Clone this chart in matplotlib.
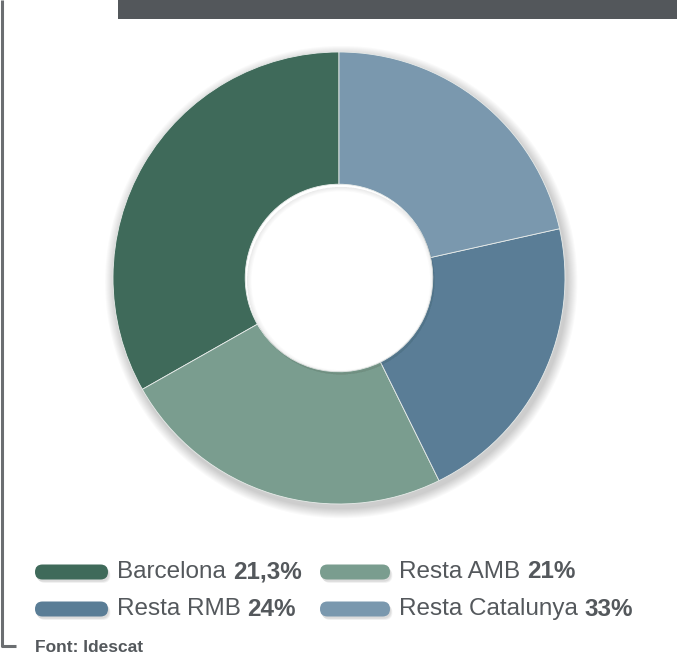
import matplotlib
matplotlib.use("Agg")
import matplotlib.pyplot as plt
from matplotlib.patches import FancyBboxPatch, Rectangle, Wedge
import numpy as np

# data
categories = ["Barcelona", "Resta AMB", "Resta RMB", "Resta Catalunya"]
legend_values = ["21,3%", "21%", "24%", "33%"]
slice_values = [33.2, 24.1, 21.2, 21.5]
colors = ["#3f6a5a", "#7a9d8f", "#5a7d96", "#7a98ae"]
source = "Font: Idescat"

W, H = 677, 657
fig = plt.figure(figsize=(W / 100, H / 100), dpi=100)
fig.patch.set_facecolor("white")

# overlay axes in pixel coordinates
bg = fig.add_axes([0, 0, 1, 1])
bg.set_xlim(0, W)
bg.set_ylim(H, 0)
bg.axis("off")

# title bar
bg.add_patch(Rectangle((118, 0), W - 118, 19, facecolor="#53575b", edgecolor="none"))
# left bracket line
bg.plot([2, 2, 16], [0, 646, 646], color="#6b6e71", lw=2.2, solid_capstyle="butt")

# donut
cx, cy, R = 339, 278, 226
ax = fig.add_axes([(cx - R) / W, (H - cy - R) / H, 2 * R / W, 2 * R / H])
ax.set_xlim(-1, 1)
ax.set_ylim(-1, 1)
ax.axis("off")

inner = 0.415
# soft outer shadow (ring only)
for i in range(10):
    r = 1.0 + 0.0045 * (i + 1)
    ax.add_patch(Wedge((0.01, -0.018), r, 0, 360, width=r - 0.9, facecolor="#000000",
                       alpha=0.018, edgecolor="none", zorder=0, clip_on=False))

wedges, _ = ax.pie(slice_values, colors=colors, startangle=90, counterclock=True,
                   radius=1.0, wedgeprops=dict(width=1 - inner, edgecolor="#e8ecea", linewidth=0.6),
                   frame=False)
for w in wedges:
    w.set_zorder(2)
    w.set_clip_on(False)
ax.set_xlim(-1, 1)
ax.set_ylim(-1, 1)
# inner hole subtle shadow
for i in range(5):
    ax.add_patch(Wedge((0.008, -0.012), inner, 0, 360, width=0.004 * (i + 1), facecolor="#000000",
                       alpha=0.014, edgecolor="none", zorder=3))

# legend
text_color = "#54585c"
fs = 17.5
rows_y = [572, 609]
cols = [(35, 108, 117), (320, 390, 399)]
positions = [(0, 0), (0, 1), (1, 0), (1, 1)]
fig.canvas.draw()
renderer = fig.canvas.get_renderer()
for i, (cat, val, col) in enumerate(zip(categories, legend_values, colors)):
    r, c = positions[i]
    y = rows_y[r]
    x0, x1, tx = cols[c]
    bh = 15
    for k in range(4):
        bg.add_patch(FancyBboxPatch((x0 + 1 + k * 0.5, y - bh / 2 + 2 + k * 0.5), x1 - x0, bh,
                                    boxstyle="round,pad=0,rounding_size=7.5",
                                    facecolor="#000000", alpha=0.035, edgecolor="none"))
    bg.add_patch(FancyBboxPatch((x0, y - bh / 2), x1 - x0, bh,
                                boxstyle="round,pad=0,rounding_size=7.5",
                                facecolor=col, edgecolor="none"))
    t1 = bg.text(tx, y, cat + " ", fontsize=fs, color=text_color, va="center", ha="left",
                 family="Liberation Sans")
    bb = t1.get_window_extent(renderer=renderer)
    x_next = bg.transData.inverted().transform((bb.x1, bb.y0))[0]
    bg.text(x_next, y, val, fontsize=fs, color=text_color, va="center", ha="left",
            family="Liberation Sans", fontweight="bold")

bg.text(35, 648, source, fontsize=12.5, color=text_color, va="center", ha="left",
        family="Liberation Sans", fontweight="bold")

fig.savefig("out.png", dpi=100)
